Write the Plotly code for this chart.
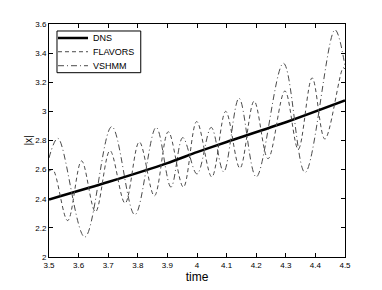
import plotly.graph_objects as go

# DNS (solid, black)
dns_t = [3.5, 3.7, 3.9, 4.0, 4.1, 4.3, 4.5]
dns_x = [2.395, 2.515, 2.645, 2.72, 2.79, 2.925, 3.075]

# FLAVORS (dashed)
flavors_t = [3.5, 3.513, 3.563, 3.61, 3.657, 3.706, 3.757, 3.805, 3.856, 3.903,
             3.954, 3.999, 4.05, 4.097, 4.145, 4.193, 4.24, 4.297, 4.342, 4.389,
             4.432, 4.494, 4.5]
flavors_x = [2.59, 2.60, 2.25, 2.66, 2.31, 2.73, 2.37, 2.79, 2.42, 2.86,
             2.48, 2.93, 2.55, 3.0, 2.61, 3.07, 2.675, 3.14, 2.74, 3.23,
             2.81, 3.30, 3.29]

# VSHMM (dash-dot)
vshmm_t = [3.5, 3.53, 3.621, 3.712, 3.79, 3.862, 3.912, 3.952, 4.0, 4.048,
           4.09, 4.142, 4.2, 4.292, 4.365, 4.466, 4.5]
vshmm_x = [2.68, 2.815, 2.137, 2.895, 2.29, 2.89, 2.48, 2.82, 2.57, 2.89,
           2.585, 3.09, 2.55, 3.33, 2.58, 3.56, 3.31]

x_ticks = [3.5, 3.6, 3.7, 3.8, 3.9, 4.0, 4.1, 4.2, 4.3, 4.4, 4.5]
x_ticklabels = ["3.5", "3.6", "3.7", "3.8", "3.9", "4", "4.1", "4.2", "4.3", "4.4", "4.5"]
y_ticks = [2.0, 2.2, 2.4, 2.6, 2.8, 3.0, 3.2, 3.4, 3.6]
y_ticklabels = ["2", "2.2", "2.4", "2.6", "2.8", "3", "3.2", "3.4", "3.6"]

font_family = "Liberation Sans, Arial, Helvetica, sans-serif"

fig = go.Figure()
fig.add_trace(go.Scatter(x=dns_t, y=dns_x, name="DNS", mode="lines", legend="legend",
                         line=dict(color="black", width=2.5, shape="spline", smoothing=0.6)))
fig.add_trace(go.Scatter(x=flavors_t, y=flavors_x, name="FLAVORS", mode="lines", legend="legend2",
                         line=dict(color="#4a4a4a", width=1, dash="4px,3px",
                                   shape="spline", smoothing=1.0)))
fig.add_trace(go.Scatter(x=vshmm_t, y=vshmm_x, name="VSHMM", mode="lines", legend="legend3",
                         line=dict(color="#4a4a4a", width=1, dash="6px,3px,1px,3px",
                                   shape="spline", smoothing=1.0)))

leg_common = dict(xanchor="left", yanchor="middle", bgcolor="rgba(0,0,0,0)",
                  borderwidth=0, font=dict(size=9, family=font_family, color="black"),
                  itemwidth=30)
leg_x = 0.0135

fig.update_layout(
    width=374, height=282, autosize=False,
    margin=dict(l=41, r=37, t=14, b=33, pad=0),
    paper_bgcolor="white", plot_bgcolor="white",
    font=dict(family=font_family, size=8, color="black"),
    showlegend=True,
    legend=dict(x=leg_x, y=0.940, **leg_common),
    legend2=dict(x=leg_x, y=0.881, **leg_common),
    legend3=dict(x=leg_x, y=0.821, **leg_common),
    shapes=[dict(type="rect", xref="paper", yref="paper",
                 x0=0.027, x1=0.31, y0=0.791, y1=0.970,
                 line=dict(color="black", width=1), fillcolor="white", layer="above")],
    xaxis=dict(range=[3.5, 4.5], tickvals=x_ticks, ticktext=x_ticklabels,
               showgrid=False, zeroline=False, showline=True, linecolor="black",
               linewidth=1, mirror="ticks", ticks="inside", ticklen=4,
               tickcolor="black", tickfont=dict(size=8),
               title=dict(text="time", font=dict(size=12), standoff=0)),
    yaxis=dict(range=[2.0, 3.6], tickvals=y_ticks, ticktext=y_ticklabels,
               showgrid=False, zeroline=False, showline=True, linecolor="black",
               linewidth=1, mirror="ticks", ticks="inside", ticklen=4,
               tickcolor="black", tickfont=dict(size=8),
               title=dict(text="|x|", font=dict(size=10), standoff=0)),
)

fig.write_html("out.html")
